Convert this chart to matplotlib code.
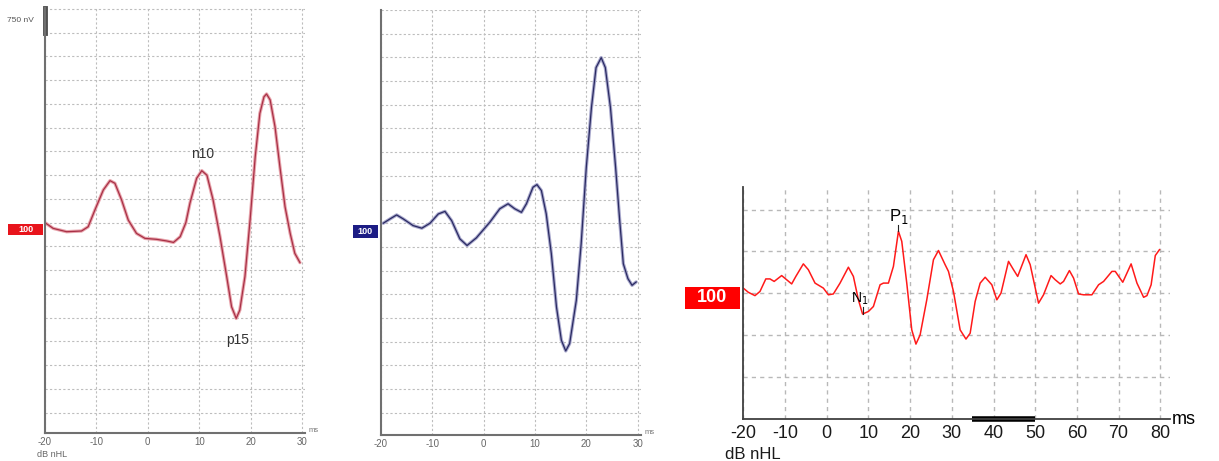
import numpy as np
import matplotlib
matplotlib.use("Agg")
import matplotlib.pyplot as plt
from matplotlib.patches import Rectangle

W, H = 1219, 461

# amplitudes are in grid divisions relative to the baseline (1 div = 750 nV on the left traces)
ms_left = [-20, -18.4, -15.8, -12.9, -11.6, -10.3, -8.65, -7.35, -6.4, -5.1, -3.8, -2.2, -0.55, 1.7,
           3.7, 5.0, 6.3, 7.4, 8.2, 9.5, 10.5, 11.5, 12.7, 14.05, 15.35, 16.3, 17.2, 17.9, 18.9,
           19.9, 20.9, 21.8, 22.6, 23.1, 23.8, 24.75, 25.7, 26.7, 27.7, 28.6, 29.6]
amp_left = [0, -0.24, -0.38, -0.35, -0.17, 0.53, 1.38, 1.77, 1.66, 0.96, 0.11, -0.45, -0.66, -0.70,
            -0.77, -0.83, -0.59, 0.0, 0.82, 1.87, 2.19, 2.0, 0.96, -0.59, -2.27, -3.54, -4.03,
            -3.68, -2.27, 0.11, 2.78, 4.6, 5.3, 5.42, 5.17, 4.04, 2.36, 0.67, -0.45, -1.29, -1.68]

ms_mid = [-19.5, -18.2, -16.9, -15.6, -13.7, -12.0, -10.4, -8.8, -7.5, -6.2, -4.6, -3.2, -1.4, 1.22,
          3.17, 4.78, 6.08, 7.38, 8.35, 9.63, 10.4, 11.26, 12.2, 13.2, 14.2, 15.15, 16.0, 16.76,
          18.06, 19.0, 20.0, 21.0, 21.9, 22.9, 23.7, 24.7, 25.7, 26.5, 27.2, 28.1, 28.9, 29.7]
amp_mid = [0, 0.18, 0.35, 0.18, -0.1, -0.21, 0, 0.39, 0.5, 0.11, -0.66, -0.94, -0.62, 0.04, 0.61,
           0.82, 0.61, 0.46, 0.82, 1.52, 1.63, 1.38, 0.4, -1.29, -3.54, -4.94, -5.39, -5.08, -3.25,
           -0.87, 2.36, 4.88, 6.57, 6.99, 6.57, 4.88, 2.36, 0.11, -1.71, -2.34, -2.62, -2.48]

ms_right = [-20, -18.8, -17.2, -16, -14.6, -13.6, -12.6, -10.8, -9.6, -8.4, -7.4, -5.6, -4.4, -2.8,
            -0.8, 0.4, 1.6, 3.2, 5.2, 6.4, 7.6, 8.6, 10, 11.2, 12.8, 13.6, 14.8, 16, 17.2, 18, 19.2,
            20.4, 21.4, 22.4, 24, 25.6, 26.8, 28.4, 29.2, 30.4, 32, 33.4, 34.4, 35.6, 36.8, 38, 39.6,
            40.8, 41.8, 43.6, 44.8, 45.8, 47.8, 48.8, 50.8, 52, 53.8, 54.8, 56, 56.8, 58.2, 59.2,
            60.4, 61.6, 63.6, 65.2, 66.4, 68.4, 69.2, 71.0, 73.0, 74.4, 76, 76.8, 77.8, 78.8, 79.8]
amp_right = [0.12, 0.02, -0.06, 0.04, 0.34, 0.34, 0.28, 0.42, 0.32, 0.22, 0.4, 0.7, 0.56, 0.24, 0.12,
             -0.04, -0.02, 0.24, 0.62, 0.4, -0.16, -0.5, -0.44, -0.32, 0.2, 0.24, 0.24, 0.64, 1.48,
             1.24, 0.24, -0.88, -1.22, -1.0, -0.16, 0.8, 1.02, 0.68, 0.52, 0.04, -0.88, -1.1, -0.96,
             -0.2, 0.24, 0.38, 0.2, -0.16, 0, 0.76, 0.56, 0.4, 0.92, 0.68, -0.24, -0.04, 0.42, 0.32,
             0.22, 0.28, 0.54, 0.36, -0.02, -0.04, -0.04, 0.2, 0.28, 0.52, 0.52, 0.26, 0.7, 0.24,
             -0.1, -0.06, 0.2, 0.9, 1.04]

small_ticks = [-20, -10, 0, 10, 20, 30]
big_ticks = [-20, -10, 0, 10, 20, 30, 40, 50, 60, 70, 80]
level = "100"


def px_box(l, t, r, b):
    return [l / W, 1 - b / H, (r - l) / W, (b - t) / H]


def add_label_box(fig, l, t, r, b, color, size, bold=False):
    fig.add_artist(Rectangle((l / W, 1 - b / H), (r - l) / W, (b - t) / H,
                             transform=fig.transFigure, color=color, lw=0))
    fig.text((l + r) / 2 / W, 1 - (t + b) / 2 / H, level, color="white", fontsize=size,
             ha="center", va="center", fontweight="bold" if bold else "normal",
             family="Liberation Sans")


fig = plt.figure(figsize=(W / 100, H / 100), dpi=100)


def small_panel(left_px, top_px, bottom_px, ms, amp, core, halo):
    ax = fig.add_axes(px_box(left_px, top_px, left_px + 5.14 * 50.6, bottom_px))
    ax.set_xlim(-20, 30.6)
    ax.set_ylim(-(bottom_px - 222.7) / 23.75, (222.7 - top_px) / 23.75)
    ax.set_xticks(small_ticks)
    ax.set_xticklabels([str(t) for t in small_ticks], color="#666666", fontsize=7,
                       family="Liberation Sans")
    ax.set_yticks(np.arange(-8, 10))
    ax.set_yticklabels([])
    ax.tick_params(length=0, pad=3)
    ax.grid(True, ls=(0, (2, 2)), color="#bdbdbd", lw=0.8)
    for s in ["top", "right"]:
        ax.spines[s].set_visible(False)
    for s in ["left", "bottom"]:
        ax.spines[s].set_color("#707070")
        ax.spines[s].set_linewidth(1.5)
    ax.plot(ms, amp, color=halo, lw=2.4, solid_joinstyle="round", solid_capstyle="round")
    ax.plot(ms, amp, color=core, lw=0.9, solid_joinstyle="round")
    ax.text(31.3, ax.get_ylim()[0] + 0.1, "ms", color="#777777", fontsize=5.5,
            family="Liberation Sans", ha="left", va="center", clip_on=False)
    return ax


ax1 = small_panel(45, 8, 433, ms_left, amp_left, "#a83046", "#e8a4ac")
ax1.plot([-20, -20], [8, 9.05], color="#505050", lw=3.5, clip_on=False)
fig.text(7 / W, 1 - 20 / H, "750 nV", color="#555555", fontsize=6, va="center",
         family="Liberation Sans")
fig.text(37 / W, 1 - 454 / H, "dB nHL", color="#666666", fontsize=6.5, va="center",
         family="Liberation Sans")
ax1.text(10.7, 2.9, "n10", fontsize=10, color="#333333", ha="center", va="center",
         family="Liberation Sans")
ax1.text(17.5, -4.95, "p15", fontsize=10, color="#333333", ha="center", va="center",
         family="Liberation Sans")
add_label_box(fig, 8, 224, 43, 235, "#e8141c", 6.5, bold=True)

ax2 = small_panel(380.7, 10, 435, ms_mid, amp_mid, "#2a2a62", "#a8a8cc")
add_label_box(fig, 352.7, 225, 378, 238, "#1c1c84", 6.5, bold=True)

# right panel
ax3 = fig.add_axes(px_box(743.3, 187, 743.3 + 4.17 * 102.4, 419.3))
ax3.set_xlim(-20, 82.4)
ax3.set_ylim(-3.02, 2.54)
ax3.set_xticks(big_ticks)
ax3.set_xticklabels([str(t) for t in big_ticks], fontsize=13, color="#1a1a1a",
                    family="Liberation Sans")
ax3.set_yticks([-2, -1, 0, 1, 2])
ax3.set_yticklabels([])
ax3.tick_params(length=0, pad=4)
ax3.grid(True, ls=(0, (3, 3)), color="#b8b8b8", lw=1.0)
for s in ["top", "right"]:
    ax3.spines[s].set_visible(False)
for s in ["left", "bottom"]:
    ax3.spines[s].set_color("#404040")
    ax3.spines[s].set_linewidth(1.3)
ax3.plot(ms_right, amp_right, color="#ff1a1a", lw=1.1)
ax3.plot([34.8, 50], [-3.02, -3.02], color="black", lw=4, solid_capstyle="butt", clip_on=False)
ax3.plot([17.2, 17.2], [1.48, 1.64], color="#222222", lw=0.8)
ax3.text(17.2, 1.84, "P$_1$", fontsize=12, ha="center", va="center", family="Liberation Sans")
ax3.plot([8.6, 8.6], [-0.5, -0.33], color="#222222", lw=0.8)
ax3.text(8.0, -0.14, "N$_1$", fontsize=10, ha="center", va="center", family="Liberation Sans")
ax3.text(82.8, -3.02, "ms", fontsize=13, ha="left", va="center", family="Liberation Sans",
         clip_on=False)
fig.text(725 / W, 1 - 454 / H, "dB nHL", fontsize=12, va="center", family="Liberation Sans",
         color="#1a1a1a")
add_label_box(fig, 685, 286.7, 740, 309.3, "#ff0000", 13, bold=True)

plt.savefig("out.png", dpi=100)
